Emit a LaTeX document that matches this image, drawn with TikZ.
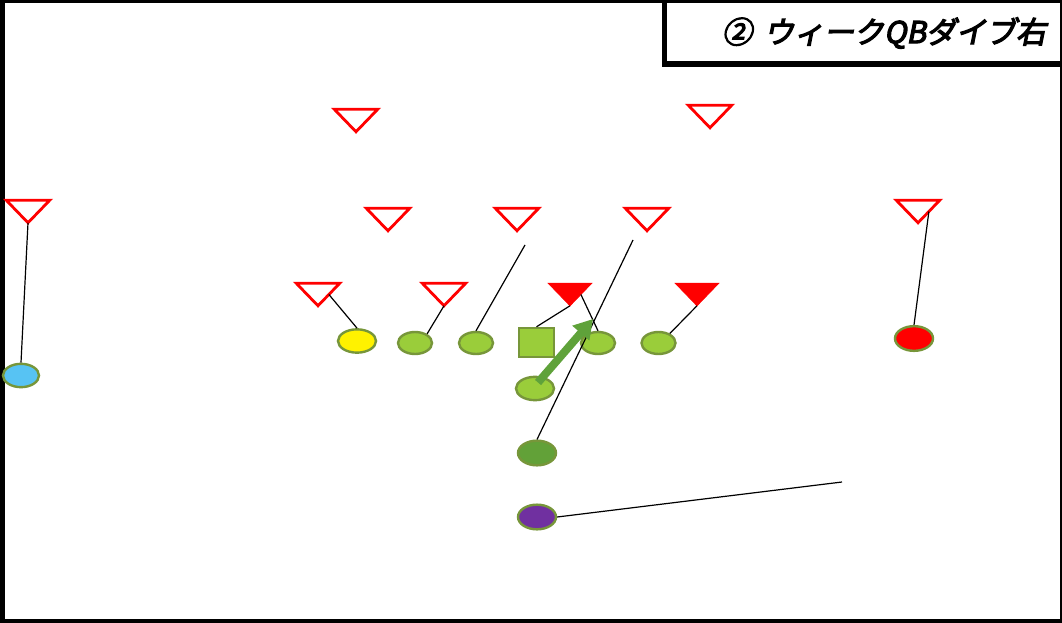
\documentclass[tikz,border=0pt]{standalone}
\usepackage{fontspec}
\newfontfamily\cjk[FakeSlant=0.2,FakeBold=4]{Noto Sans CJK JP}
\usetikzlibrary{shapes.geometric,arrows.meta,calc}
\definecolor{lgreen}{HTML}{9ACD3A}
\definecolor{pline}{HTML}{77963A}
\definecolor{dgreen}{HTML}{62A138}
\definecolor{runc}{HTML}{5FA23A}
\definecolor{wrblue}{HTML}{57C3F3}
\definecolor{tepurple}{HTML}{7030A0}
\tikzset{
	player/.style={ellipse, draw=pline, line width=1.8pt, fill=lgreen, inner sep=0pt, minimum width=25.5pt, minimum height=16.5pt},
	bigplayer/.style={player, minimum width=28.5pt, minimum height=17.5pt},
	center/.style={draw=pline, line width=1.8pt, fill=lgreen, inner sep=0pt, minimum width=26.25pt, minimum height=21.75pt},
	dzone/.style={inner sep=0pt, minimum width=32.25pt, minimum height=16.5pt},
	opentri/.style={draw=red, line width=2.1pt, fill=white},
	solidtri/.style={draw=red, line width=0.6pt, fill=red},
	block/.style={black, line width=0.9pt},
	run/.style={draw=runc, line width=6pt, -{Triangle[length=14pt,width=16pt]}}
}
\begin{document}
\begin{tikzpicture}[x=0.75pt,y=0.75pt,yscale=-1,xscale=1]
	%Shape: Frame
	\fill[black] (0,0) -- (1062,0) -- (1062,623) -- (0,623) -- cycle ;
	\fill[white] (5,3) -- (1060,3) -- (1060,619) -- (5,619) -- cycle ;
	%Shape: Title box
	\fill[black] (662,0) -- (1062,0) -- (1062,67) -- (662,67) -- cycle ;
	\fill[white] (667,3) -- (1060,3) -- (1060,61) -- (667,61) -- cycle ;

	% Text Node
	\node (title) at (884,33) [inner sep=0pt] [font=\cjk\fontsize{22.5}{26}\selectfont] {②\hspace{4pt} ウィークQBダイブ右};

	%Shape: Defense
	\node (ta) at (356,120.5) [dzone] {};
	\node (tb) at (710,116.5) [dzone] {};
	\node (tc) at (28,211.5) [dzone] {};
	\node (td) at (388,219.5) [dzone] {};
	\node (te) at (517,219.5) [dzone] {};
	\node (tf) at (647,219.5) [dzone] {};
	\node (tg) at (918,211.5) [dzone] {};
	\node (th) at (318,294.5) [dzone] {};
	\node (ti) at (444,294.5) [dzone] {};
	\node (tj) at (570,294.5) [dzone] {};
	\node (tk) at (697,294.5) [dzone] {};
	\foreach \t in {ta,tb,tc,td,te,tf,tg,th,ti}
		\draw[opentri] (\t.north west) -- (\t.north east) -- (\t.south) -- cycle ;
	\foreach \t in {tj,tk}
		\draw[solidtri] (\t.north west) -- (\t.north east) -- (\t.south) -- cycle ;

	%Shape: Offense
	\node (wr) at (21,375.5) [bigplayer, fill=wrblue, minimum width=27pt] {};
	\node (ylb) at (357,341) [bigplayer, fill=yellow] {};
	\node (lt) at (415,343) [player] {};
	\node (lg) at (476,343) [player] {};
	\node (c) at (536.5,342.5) [center] {};
	\node (rg) at (598,343) [player] {};
	\node (rt) at (658.5,343) [player] {};
	\node (qb) at (535,388.5) [bigplayer] {};
	\node (rb) at (537,453) [bigplayer, fill=dgreen, minimum height=18.5pt] {};
	\node (fl) at (537,517) [bigplayer, fill=tepurple, minimum height=18.5pt] {};
	\node (se) at (914,338.5) [bigplayer, fill=red, minimum height=18.5pt] {};

	\coordinate (lgfree) at (525,245) ;
	\coordinate (rbfree) at (633,240) ;
	\coordinate (flfree) at (842,482) ;
	\coordinate (qbgoal) at (593,319) ;

	%Straight Lines
	\draw[block] (tc.south) -- (wr.north) ;
	\draw[block] ($(tg.north east)!0.5!(tg.south)$) -- (se.north) ;
	\draw[block] ($(th.north east)!0.5!(th.south)$) -- (ylb.north) ;
	\draw[block] (ti.south) -- (lt.37) ;
	\draw[block] (lgfree) -- (lg.north) ;
	\draw[block] (tj.south) -- (c.north) ;
	\draw[block] ($(tj.north east)!0.5!(tj.south)$) -- (rg.north) ;
	\draw[block] (tk.south) -- (rt.40) ;
	\draw[block] (rbfree) -- (rb.north) ;
	\draw[block] (fl.east) -- (flfree) ;

	%Straight Lines: run
	\draw[run] ([shift={(3,-6)}]qb.center) -- (qbgoal) ;

\end{tikzpicture}
\end{document}
